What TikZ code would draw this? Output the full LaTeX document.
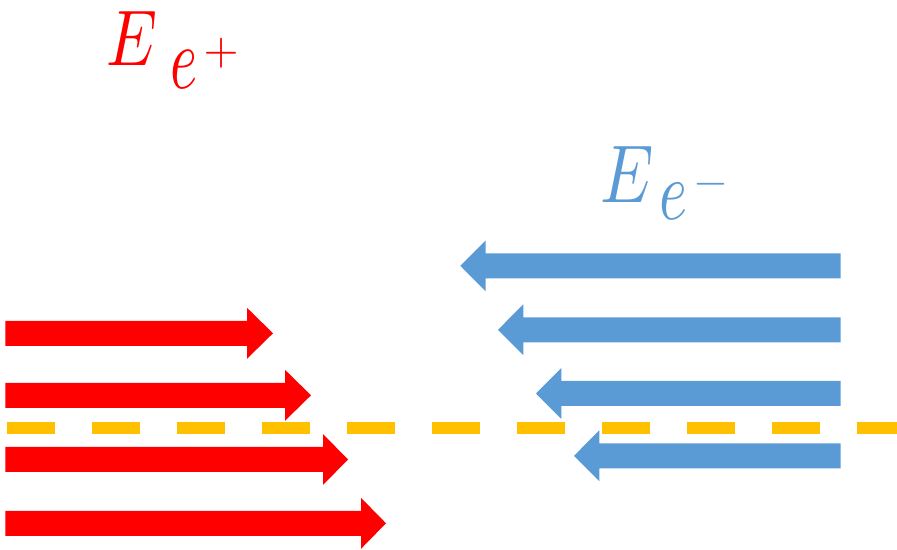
\documentclass[tikz,border=0pt]{standalone}
\usepackage{graphicx}
\definecolor{posred}{HTML}{FF0000}
\definecolor{eleblue}{HTML}{5B9BD5}
\definecolor{axisgold}{HTML}{FFC000}
\tikzset{
  glyph/.style={inner sep=0pt, outer sep=0pt, anchor=center},
  beamline/.style={line width=12pt, axisgold, dash pattern=on 48.5pt off 36.5pt, line cap=butt},
}
% right-pointing block arrow: #1 left end, #2 head base, #3 tip, #4 centre height
\newcommand{\rblock}[4]{%
  \fill[posred] (#1,#4-12.5) -- (#2,#4-12.5) -- (#2,#4-25.5) -- (#3,#4)
    -- (#2,#4+25.5) -- (#2,#4+12.5) -- (#1,#4+12.5) -- cycle;}
% left-pointing block arrow: #1 right end, #2 head base, #3 tip, #4 centre height
\newcommand{\lblock}[4]{%
  \fill[eleblue] (#1,#4-12.5) -- (#2,#4-12.5) -- (#2,#4-25.5) -- (#3,#4)
    -- (#2,#4+25.5) -- (#2,#4+12.5) -- (#1,#4+12.5) -- cycle;}
\begin{document}
\begin{tikzpicture}[x=1pt,y=1pt]
\useasboundingbox (0,0) rectangle (897,549);

% positron beam
\rblock{5.3}{247}{273}{215.7}
\rblock{5.3}{285}{311}{153.7}
\rblock{5.3}{323}{348}{89.5}
\rblock{5.3}{361}{386}{25.7}

% electron beam
\lblock{840.7}{485.7}{460.3}{283.2}
\lblock{840.7}{523.3}{498}{219.2}
\lblock{840.7}{561.3}{536}{155.5}
\lblock{840.7}{599.3}{574}{93.2}

% beam axis
\coordinate (axisL) at (6.7,121);
\coordinate (axisR) at (897,121);
\draw[beamline] (axisL) -- (axisR);

% energy labels
\node[glyph, text=posred] (Ep) at (132,510.3) {\scalebox{6.4}[7.9]{$E$}};
\node[glyph, text=posred] (Ep-e) at (184,479) {\scalebox{5.8}[8.8]{$e$}};
\node[glyph, text=posred] (Ep-s) at (221,496) {\scalebox{4.5}{$+$}};

\node[glyph, text=eleblue] (Em) at (627.5,374.3) {\scalebox{6.7}[8.2]{$E$}};
\node[glyph, text=eleblue] (Em-e) at (673.5,347.2) {\scalebox{6.0}[8.4]{$e$}};
\node[glyph, text=eleblue] (Em-s) at (711,365) {\scalebox{4.5}{$-$}};
\end{tikzpicture}
\end{document}
